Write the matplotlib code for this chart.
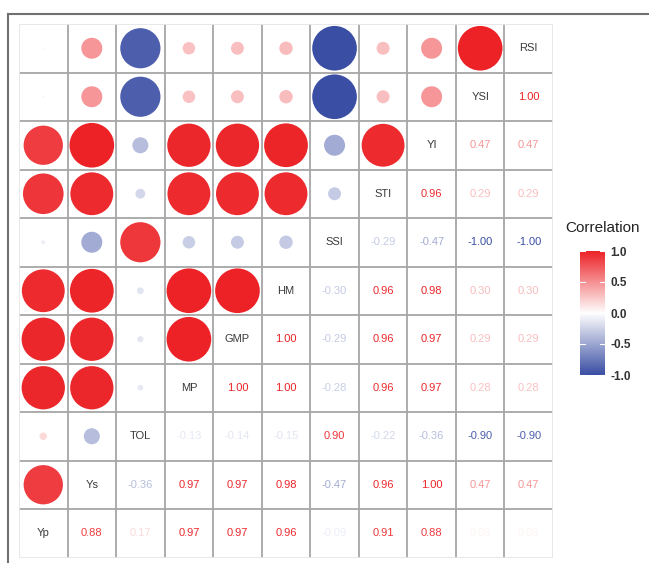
import numpy as np
import matplotlib
matplotlib.use('Agg')
import matplotlib.pyplot as plt
from matplotlib.colors import LinearSegmentedColormap, Normalize
from matplotlib.patches import Circle
from matplotlib.lines import Line2D

plt.rcParams['font.family'] = ['Liberation Sans', 'DejaVu Sans']

# variable order, bottom-left to top-right along the diagonal
traits = ['Yp', 'Ys', 'TOL', 'MP', 'GMP', 'HM', 'SSI', 'STI', 'YI', 'YSI', 'RSI']

# correlations of each trait with the traits after it
yp_r = [0.88, 0.17, 0.97, 0.97, 0.96, -0.09, 0.91, 0.88, 0.05, 0.05]
ys_r = [-0.36, 0.97, 0.97, 0.98, -0.47, 0.96, 1.00, 0.47, 0.47]
tol_r = [-0.13, -0.14, -0.15, 0.90, -0.22, -0.36, -0.90, -0.90]
mp_r = [1.00, 1.00, -0.28, 0.96, 0.97, 0.28, 0.28]
gmp_r = [1.00, -0.29, 0.96, 0.97, 0.29, 0.29]
hm_r = [-0.30, 0.96, 0.98, 0.30, 0.30]
ssi_r = [-0.29, -0.47, -1.00, -1.00]
sti_r = [0.96, 0.29, 0.29]
yi_r = [0.47, 0.47]
ysi_r = [1.00]

upper = [yp_r, ys_r, tol_r, mp_r, gmp_r, hm_r, ssi_r, sti_r, yi_r, ysi_r]
n = len(traits)
corr = np.eye(n)
for i, row in enumerate(upper):
    for k, v in enumerate(row):
        j = i + 1 + k
        corr[i, j] = v
        corr[j, i] = v

cmap = LinearSegmentedColormap.from_list('corr', ['#3a4ea3', '#ffffff', '#ec2226'])
norm = Normalize(-1, 1)

W, H = 649, 563
fig = plt.figure(figsize=(W / 100, H / 100), dpi=100)

# grid axes
gx0, gx1, gy0, gy1 = 19, 553, 24, 557.5
ax = fig.add_axes([gx0 / W, 1 - gy1 / H, (gx1 - gx0) / W, (gy1 - gy0) / H])
ax.set_xlim(0, n)
ax.set_ylim(0, n)
ax.axis('off')

# cell grid
for k in range(1, n):
    ax.plot([k, k], [0, n], color='#a6a6a6', lw=1.3, zorder=1)
    ax.plot([0, n], [k, k], color='#a6a6a6', lw=1.3, zorder=1)
ax.plot([0, n, n, 0, 0], [0, 0, n, n, 0], color='#e6e6e6', lw=1.3, zorder=1)

# cell i (column) / row j: row index from bottom = trait index
for i in range(n):        # column -> traits[i]
    for j in range(n):    # row from bottom -> traits[j]
        cx, cy = i + 0.5, j + 0.5
        r = corr[i, j]
        if i == j:
            ax.text(cx, cy, traits[i], ha='center', va='center', fontsize=8,
                    color='#3a3a3a', zorder=3)
        elif i < j:
            ax.add_patch(Circle((cx, cy), 0.46 * abs(r), color=cmap(norm(r)),
                                lw=0, zorder=2))
        else:
            ax.text(cx, cy, f'{r:.2f}', ha='center', va='center', fontsize=8,
                    color=cmap(norm(r)), zorder=3)

# legend colorbar
cax = fig.add_axes([580 / W, 1 - 375 / H, 25 / W, 124 / H])
grad = np.linspace(-1, 1, 256).reshape(-1, 1)
cax.imshow(grad, aspect='auto', cmap=cmap, origin='lower', extent=[0, 1, -1, 1])
cax.set_xticks([])
cax.yaxis.tick_right()
cax.set_yticks([-1, -0.5, 0, 0.5, 1])
cax.set_yticklabels(['-1.0', '-0.5', '0.0', '0.5', '1.0'], fontsize=8.5,
                    color='#333333', fontweight='bold')
cax.tick_params(axis='y', length=0, pad=4)
for t in [-1, -0.5, 0, 0.5, 1]:
    cax.plot([0, 0.2], [t, t], color='white', lw=0.8)
    cax.plot([0.8, 1], [t, t], color='white', lw=0.8)
cax.set_xlim(0, 1)
cax.set_ylim(-1, 1)
for s in cax.spines.values():
    s.set_visible(False)
fig.text(603 / W, 1 - 228 / H, 'Correlation', ha='center', va='center',
         fontsize=11, color='#222222')

# outer frame (top and left edges)
fig.add_artist(Line2D([8 / W, 1], [1 - 14 / H, 1 - 14 / H], color='#707070', lw=1.5))
fig.add_artist(Line2D([8 / W, 8 / W], [0, 1 - 14 / H], color='#707070', lw=1.5))

fig.savefig('out.png', dpi=100)
